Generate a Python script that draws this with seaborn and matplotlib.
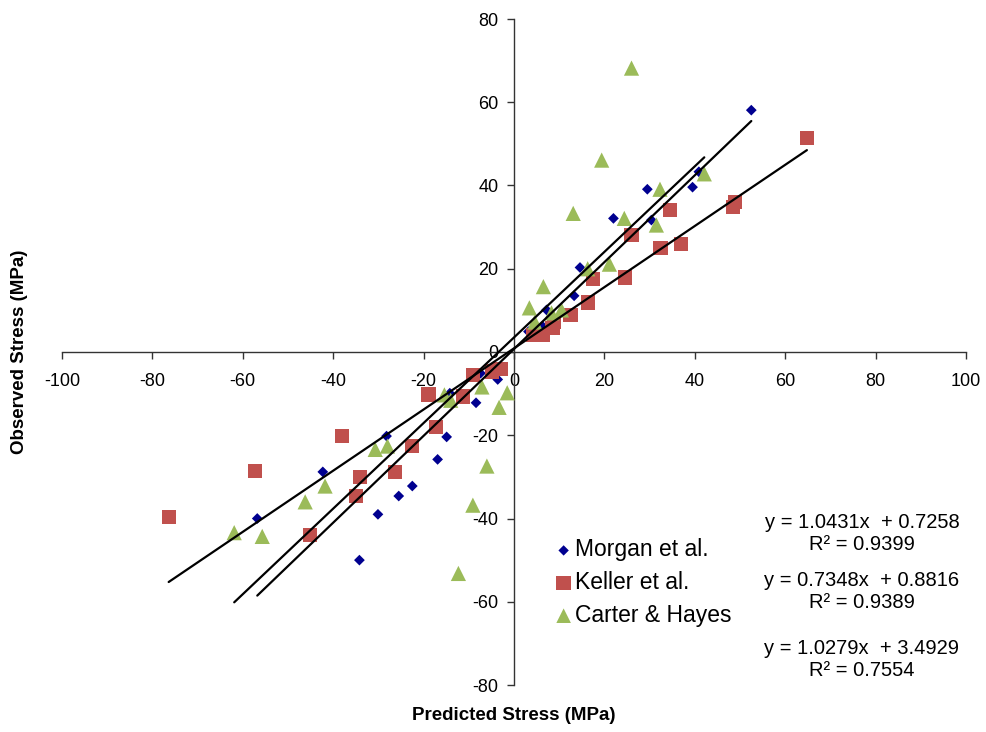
import matplotlib
matplotlib.use("Agg")
import matplotlib.pyplot as plt
import seaborn as sns
import numpy as np
import pandas as pd

# ---- data ----
morgan_x = [52.5, 29.5, 39.5, 40.9, 22.0, 30.4, 14.6, 13.3, 7.2, 6.3, 3.2, -3.6, -7.4, -8.4,
            -14.2, -14.9, -16.9, -22.5, -25.5, -28.2, -30.1, -34.2, -42.3, -56.8]
morgan_y = [58.1, 39.1, 39.6, 43.3, 32.1, 31.7, 20.3, 13.5, 10.1, 6.2, 4.9, -6.6, -5.1, -12.2,
            -9.9, -20.4, -25.8, -32.2, -34.6, -20.2, -39.0, -50.0, -28.8, -40.0]

keller_x = [64.8, 48.9, 48.5, 34.5, 26.0, 36.9, 32.4, 24.5, 17.4, 16.4, 12.5, 8.8, 8.5, 6.5, 4.3,
            -4.9, -3.0, -9.0, -11.2, -18.9, -17.2, -22.6, -26.3, -34.1, -35.0, -38.1, -45.1,
            -57.3, -76.4]
keller_y = [51.4, 36.1, 34.9, 34.1, 28.1, 25.9, 24.9, 17.9, 17.5, 11.9, 8.9, 7.2, 5.7, 4.1, 4.1,
            -4.7, -4.0, -5.5, -10.7, -10.2, -18.1, -22.5, -28.8, -30.1, -34.6, -20.1, -44.0,
            -28.6, -39.6]

carter_x = [26.0, 19.4, 32.3, 42.1, 24.4, 31.5, 13.1, 21.1, 16.3, 6.5, 3.4, 4.6, 8.3, 10.5,
            -1.5, -3.3, -7.1, -15.4, -14.0, -6.0, -9.1, -12.3, -28.0, -30.7, -41.8, -46.2,
            -55.7, -61.9]
carter_y = [68.2, 46.1, 39.1, 42.8, 32.1, 30.5, 33.3, 21.1, 20.0, 15.7, 10.6, 7.2, 9.4, 10.1,
            -9.8, -13.3, -8.4, -10.3, -11.6, -27.4, -36.8, -53.2, -22.6, -23.4, -32.2, -36.0,
            -44.3, -43.4]

series_names = ["Morgan et al.", "Keller et al.", "Carter & Hayes"]
slopes = [1.0431, 0.7348, 1.0279]
intercepts = [0.7258, 0.8816, 3.4929]
r2_values = [0.9399, 0.9389, 0.7554]

x_ticks = [-100, -80, -60, -40, -20, 0, 20, 40, 60, 80, 100]
y_ticks = [-80, -60, -40, -20, 0, 20, 40, 60, 80]

# ---- style ----
sns.set_theme(style="white")
plt.rcParams["font.family"] = ["Liberation Sans", "DejaVu Sans"]
plt.rcParams["axes.unicode_minus"] = False
plt.rcParams["text.color"] = "black"

W, H = 987, 732
fig = plt.figure(figsize=(W / 100, H / 100), dpi=100)
ax = fig.add_axes([62 / W, 1 - 685 / H, (966 - 62) / W, (685 - 19) / H])

df = pd.concat([
    pd.DataFrame({"x": morgan_x, "y": morgan_y, "s": series_names[0]}),
    pd.DataFrame({"x": keller_x, "y": keller_y, "s": series_names[1]}),
    pd.DataFrame({"x": carter_x, "y": carter_y, "s": series_names[2]}),
])

colors = {"Morgan et al.": "#000090", "Keller et al.": "#C0504D", "Carter & Hayes": "#9BBB59"}
markers = {"Morgan et al.": "D", "Keller et al.": "s", "Carter & Hayes": "^"}
sizes = {"Morgan et al.": 30, "Keller et al.": 105, "Carter & Hayes": 120}

for name in series_names:
    sub = df[df["s"] == name]
    sns.scatterplot(data=sub, x="x", y="y", ax=ax, color=colors[name], marker=markers[name],
                    s=sizes[name], edgecolor="none", linewidth=0, label=name, zorder=3)

# trendlines over each series' x range
for name, m, b in zip(series_names, slopes, intercepts):
    sub = df[df["s"] == name]
    xs = np.array([sub["x"].min(), sub["x"].max()])
    ax.plot(xs, m * xs + b, color="black", lw=1.6, zorder=4)

ax.set_xlim(-100, 100)
ax.set_ylim(-80, 80)
ax.set_xticks(x_ticks)
ax.set_yticks(y_ticks)
ax.set_xlabel("")
ax.set_ylabel("")

for sp in ["top", "right"]:
    ax.spines[sp].set_visible(False)
ax.spines["left"].set_position(("data", 0))
ax.spines["bottom"].set_position(("data", 0))
for sp in ["left", "bottom"]:
    ax.spines[sp].set_color("#333333")
    ax.spines[sp].set_linewidth(1.0)

ax.tick_params(axis="both", which="major", direction="out", length=5, width=1,
               color="#333333", labelsize=13, labelcolor="black", pad=6)
ax.xaxis.set_ticks_position("bottom")
ax.yaxis.set_ticks_position("left")
ax.tick_params(axis="x", pad=10)
ax.tick_params(axis="y", pad=6)
ax.patch.set_alpha(0)

# axis titles
fig.text(514 / W, 1 - 716 / H, "Predicted Stress (MPa)", fontsize=13.5, fontweight="bold",
         ha="center", va="center", color="black")
fig.text(20 / W, 1 - 352 / H, "Observed Stress (MPa)", fontsize=13.5, fontweight="bold",
         ha="center", va="center", rotation=90, color="black")

# legend
leg = ax.legend(loc="upper left", bbox_to_anchor=(543 / W, 1 - 527 / H),
                bbox_transform=fig.transFigure, frameon=False, fontsize=16.5,
                labelspacing=0.42, handletextpad=0.1, handlelength=0.8, borderpad=0)
for t in leg.get_texts():
    t.set_color("black")
leg_sizes = [28, 110, 110]
for h, s in zip(leg.legend_handles, leg_sizes):
    h.set_sizes([s])

# equations
eq_y = [(522, 545), (580, 603), (648, 671)]
for (y1, y2), m, b, r2 in zip(eq_y, slopes, intercepts, r2_values):
    fig.text(862 / W, 1 - y1 / H, f"y = {m:.4f}x  + {b:.4f}", fontsize=14.5,
             ha="center", va="center", color="black")
    fig.text(862 / W, 1 - y2 / H, f"R² = {r2:.4f}", fontsize=14.5, ha="center", va="center",
             color="black")

fig.savefig("out.png", dpi=100)
